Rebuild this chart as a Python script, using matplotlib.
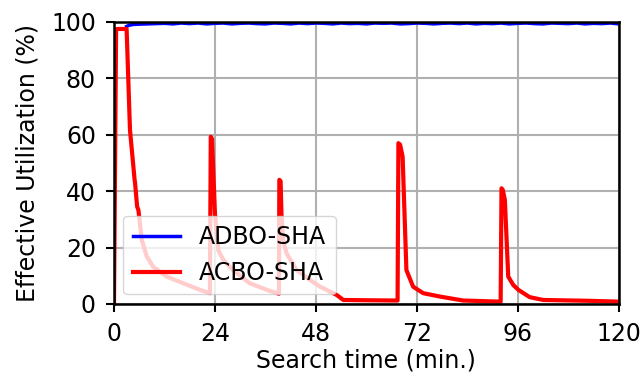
import numpy as np
import matplotlib.pyplot as plt

# Effective utilization over the search, two schedulers
acbo_t = [0, 0.5, 0.7, 3.0, 3.8, 4.9, 5.0, 5.5, 5.8, 6.6, 7.8, 9.3, 12.5, 16.5, 20.4, 22.8,
          23.0, 23.3, 24.0, 24.8, 26.0, 28.3, 32.3, 36.3, 39.2,
          39.3, 39.6, 39.8, 40.2, 41.0, 43.4, 46.6, 49.0, 52.9, 54.5, 60.0, 67.4,
          67.6, 68.0, 68.6, 69.5, 71.1, 73.5, 77.5, 83.0, 91.9,
          92.1, 92.4, 92.9, 93.7, 94.9, 96.1, 98.8, 102.0, 113.0, 120.0]
acbo_u = [0, 97.0, 97.5, 97.5, 61.7, 44.0, 43.0, 34.5, 33.3, 22.7, 16.8, 13.2, 9.7, 7.3, 5.0, 3.8,
          59.3, 58.5, 32.0, 19.0, 15.6, 12.0, 7.3, 5.0, 3.6,
          44.0, 43.5, 32.0, 22.7, 18.0, 12.0, 8.5, 6.1, 3.2, 1.4, 1.3, 1.2,
          57.0, 56.5, 52.2, 12.0, 6.1, 3.8, 2.6, 1.2, 0.8,
          41.0, 40.5, 36.9, 9.7, 6.7, 5.0, 2.4, 1.4, 1.1, 0.8]

adbo_t = [3.0, 3.6, 4.5, 6.0, 8.0] + list(range(10, 121, 2))
adbo_u = [98.4, 98.8, 99.1, 99.2, 99.3,
          99.4, 99.5, 99.3, 99.6, 99.4, 99.6, 99.3, 99.5, 99.6, 99.3,
          99.5, 99.6, 99.4, 99.3, 99.6, 99.5, 99.3, 99.6, 99.4, 99.6,
          99.5, 99.3, 99.6, 99.4, 99.5, 99.3, 99.6, 99.5, 99.6, 99.3,
          99.4, 99.6, 99.5, 99.3, 99.5, 99.6, 99.4, 99.6, 99.3, 99.5,
          99.4, 99.6, 99.3, 99.5, 99.6, 99.4, 99.3, 99.6, 99.5, 99.4,
          99.6, 99.3, 99.5, 99.4, 99.6, 99.3]

x_ticks = [0, 24, 48, 72, 96, 120]
y_ticks = [0, 20, 40, 60, 80, 100]

plt.rcParams['font.size'] = 17
fig = plt.figure(figsize=(6.44, 3.78), dpi=100)
ax = fig.add_axes([0.177, 0.196, 0.784, 0.746])

ax.plot(adbo_t, adbo_u, color='blue', linewidth=2.5, label='ADBO-SHA')
ax.plot(acbo_t, acbo_u, color='red', linewidth=3, label='ACBO-SHA')

ax.set_xlim(0, 120)
ax.set_ylim(0, 100)
ax.set_xticks(x_ticks)
ax.set_yticks(y_ticks)
ax.grid(True, color='#b0b0b0', linewidth=1.5)
ax.set_axisbelow(True)
for s in ax.spines.values():
    s.set_linewidth(1.8)
ax.tick_params(width=1.5, length=6, pad=7)

ax.set_xlabel('Search time (min.)', labelpad=2)
ax.set_ylabel('Effective Utilization (%)', labelpad=8)
ax.legend(loc='lower left', fontsize=17, borderaxespad=0.4)

plt.savefig('out.png')
